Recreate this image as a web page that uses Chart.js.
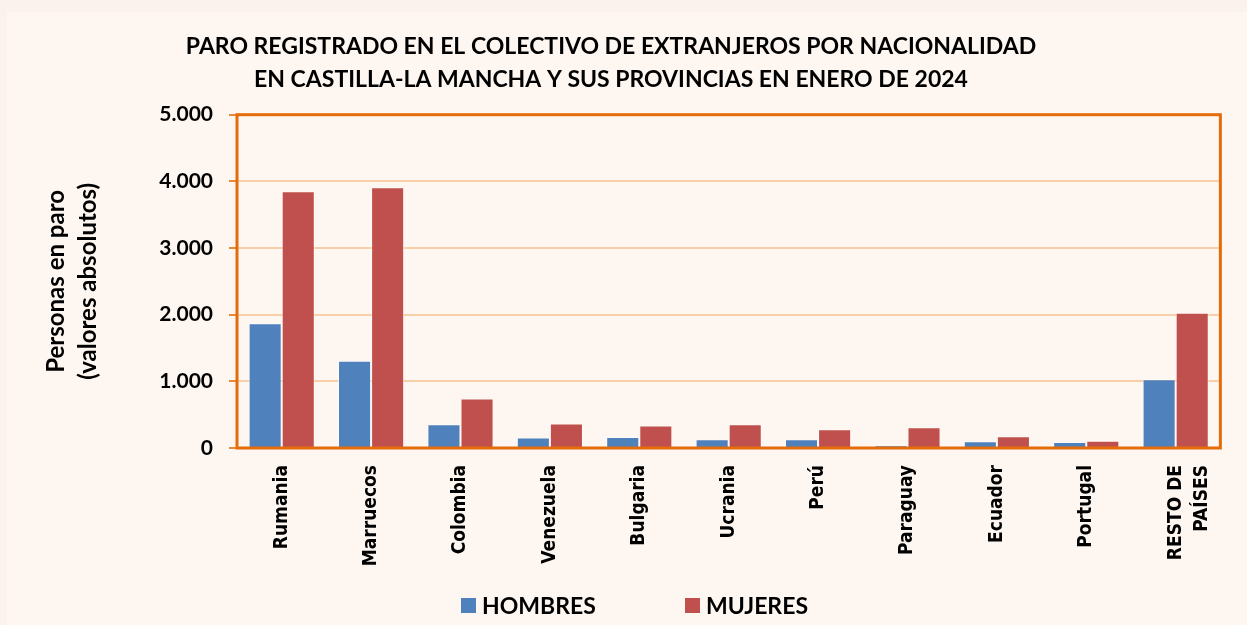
<!DOCTYPE html>
<html>
<head>
<meta charset="utf-8">
<script src="https://cdn.jsdelivr.net/npm/chart.js@4.4.1/dist/chart.umd.min.js"></script>
<style>
  html, body { margin: 0; padding: 0; background: #FBF2EE; }
  #wrap { position: relative; width: 1247px; height: 625px; }
  canvas { display: block; }
  #legend { position: absolute; left: 0; top: 0; width: 1247px; height: 625px; pointer-events: none;
            font-family: Lato, sans-serif; font-weight: bold; font-size: 23px; color: #000; }
  .item { position: absolute; top: 591px; height: 28px; line-height: 28px; white-space: nowrap; }
  .sw { position: absolute; top: 7px; width: 15px; height: 15px; }
  .lt { position: absolute; left: 21px; top: 0; }
</style>
</head>
<body>
<div id="wrap"><canvas id="c" width="1247" height="625"></canvas><div id="legend"></div></div>
<script>
const categories = ['Rumania', 'Marruecos', 'Colombia', 'Venezuela', 'Bulgaria', 'Ucrania', 'Perú', 'Paraguay', 'Ecuador', 'Portugal', ['RESTO DE', 'PAÍSES']];
const hombres = [1871, 1308, 356, 156, 166, 131, 131, 35, 101, 90, 1033];
const mujeres = [3850, 3910, 743, 367, 337, 356, 281, 311, 176, 110, 2030];
const titleLines = ['PARO REGISTRADO EN EL COLECTIVO DE EXTRANJEROS POR NACIONALIDAD', 'EN CASTILLA-LA MANCHA Y SUS PROVINCIAS EN ENERO DE 2024'];
const yTitleLines = ['Personas en paro', '(valores absolutos)'];
const seriesNames = ['HOMBRES', 'MUJERES'];
const seriesColors = ['#4F81BD', '#C0504D'];

function fmt(v) {
  return String(v).replace(/\B(?=(\d{3})+(?!\d))/g, '.');
}

const bgPlugin = {
  id: 'bg',
  beforeDraw(chart) {
    const ctx = chart.ctx;
    ctx.save();
    ctx.fillStyle = '#FBF2EE';
    ctx.fillRect(0, 0, chart.width, chart.height);
    ctx.fillStyle = '#FEF6F0';
    ctx.fillRect(7, 12, chart.width - 7, chart.height - 12);
    ctx.restore();
  }
};
const framePlugin = {
  id: 'frame',
  afterDatasetsDraw(chart) {
    const a = chart.chartArea;
    const ctx = chart.ctx;
    ctx.save();
    ctx.strokeStyle = '#E46C0A';
    ctx.lineWidth = 3;
    ctx.strokeRect(a.left, a.top, a.right - a.left, a.bottom - a.top);
    ctx.restore();
  }
};

const chart = new Chart(document.getElementById('c'), {
  type: 'bar',
  data: {
    labels: categories,
    datasets: [
      { label: seriesNames[0], data: hombres, backgroundColor: seriesColors[0], borderColor: 'rgba(255,255,255,0.55)', borderWidth: 1, categoryPercentage: 0.74, barPercentage: 1.0 },
      { label: seriesNames[1], data: mujeres, backgroundColor: seriesColors[1], borderColor: 'rgba(255,255,255,0.55)', borderWidth: 1, categoryPercentage: 0.74, barPercentage: 1.0 }
    ]
  },
  options: {
    responsive: false,
    animation: false,
    layout: { padding: { top: 30, left: 0, right: 25, bottom: 36 } },
    plugins: {
      title: {
        display: true,
        text: titleLines,
        color: '#000',
        font: { family: 'Lato', weight: 'bold', size: 23, lineHeight: 1.45 },
        padding: { top: 0, bottom: 18 }
      },
      legend: { display: false },
      tooltip: { enabled: false }
    },
    scales: {
      x: {
        grid: { display: false, drawTicks: false },
        border: { display: false },
        ticks: {
          color: '#000',
          font: { family: "'DejaVu Sans Condensed', 'DejaVu Sans'", weight: 'bold', size: 19, lineHeight: 1.4 },
          minRotation: 90,
          maxRotation: 90,
          autoSkip: false,
          padding: 17
        },
        afterFit(scale) { scale.height = 141; }
      },
      y: {
        min: 0,
        max: 5000,
        ticks: {
          stepSize: 1000,
          color: '#000',
          font: { family: 'Lato', weight: 'bold', size: 21 },
          padding: 16,
          callback: (v) => fmt(v)
        },
        grid: { color: '#F9CFAA', lineWidth: 2, tickColor: '#E8893A', tickLength: 8 },
        border: { display: false },
        title: {
          display: true,
          text: yTitleLines,
          color: '#000',
          font: { family: 'Lato', weight: 'bold', size: 24, lineHeight: 1.33 },
          padding: { top: 40, bottom: 0 }
        },
        afterFit(scale) { scale.width = 237; }
      }
    }
  },
  plugins: [bgPlugin, framePlugin]
});

// HTML legend built from the chart's datasets
const legendEl = document.getElementById('legend');
const legendX = [461, 685];
chart.data.datasets.forEach((ds, i) => {
  const item = document.createElement('div');
  item.className = 'item';
  item.style.left = legendX[i] + 'px';
  const sw = document.createElement('span');
  sw.className = 'sw';
  sw.style.background = ds.backgroundColor;
  const t = document.createElement('span');
  t.className = 'lt';
  t.textContent = ds.label;
  item.appendChild(sw);
  item.appendChild(t);
  legendEl.appendChild(item);
});
</script>
</body>
</html>
